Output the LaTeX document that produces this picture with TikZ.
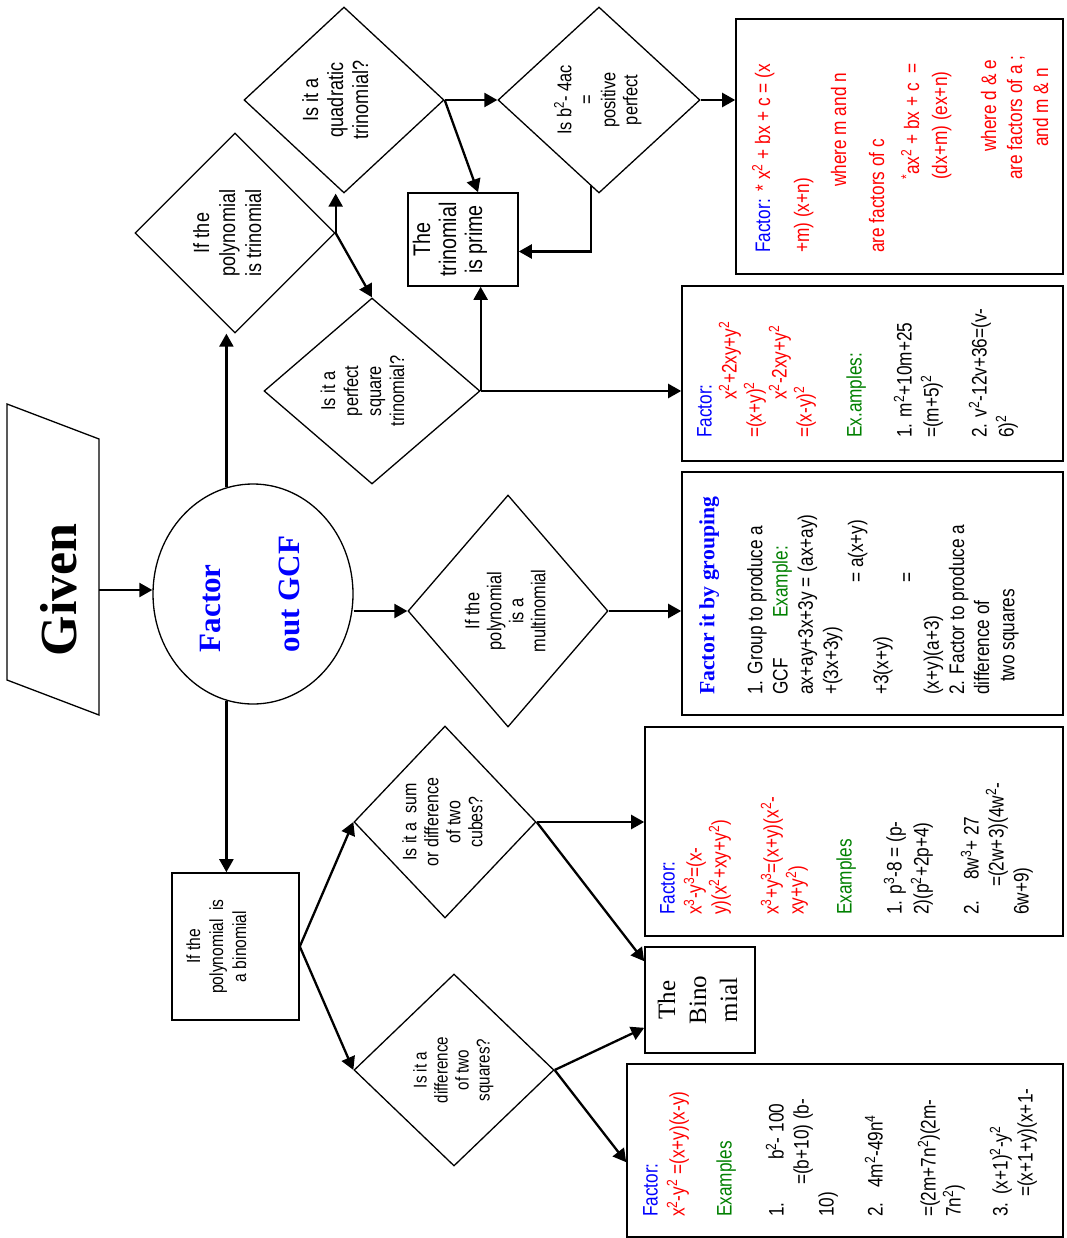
\documentclass[tikz,border=0pt]{standalone}
\usepackage{fontspec}
\usepackage{graphicx}
\setmainfont{Liberation Serif}
\newfontfamily\narrowsf[FakeStretch=0.82]{Liberation Sans}
\usetikzlibrary{arrows.meta}
\usetikzlibrary{shapes.geometric}
\definecolor{factorblue}{RGB}{0,0,255}
\definecolor{rulered}{RGB}{255,0,0}
\definecolor{examplegreen}{RGB}{0,128,0}
\newcommand{\setfs}[2]{\fontsize{#1pt}{#2pt}\selectfont}
\newcommand{\uptext}[2][0pt]{\rotatebox{90}{\raisebox{#1}[\height][\depth]{\begin{tabular}{@{}c@{}}#2\end{tabular}}}}
\newcommand{\powr}[1]{\textsuperscript{#1}}

\begin{document}
\begin{tikzpicture}[x=1pt, y=-1pt, decision/.style={diamond, draw, line width=1.3pt, inner sep=0pt}, stepbox/.style={rectangle, draw, line width=1.6pt, inner sep=0pt}, boxtext/.style={rotate=90, anchor=north west, inner sep=0pt, align=left}, arrow/.style={line width=2.3pt, ->, >={Triangle[length=13pt, width=14pt]}}]
\useasboundingbox (0,0) rectangle (1066,1238);
\draw [line width=1.3pt] (7,404) -- (99,439) -- (99,715) -- (7,680) -- cycle;
\node [minimum width=92pt, inner sep=0pt, font={\bfseries\setfs{52}{56}}] (given) at (53,590) {\uptext[-12pt]{Given}};
\node [ellipse, draw, line width=1.3pt, minimum width=200pt, minimum height=220pt, inner sep=0pt, text=factorblue, font={\bfseries\setfs{31}{33}}] (gcf) at (253,594) {\rotatebox{90}{\begin{tabular}{@{}l@{}}Factor\\[46pt]out GCF\end{tabular}}};

\node [decision, minimum width=200pt, minimum height=200pt, font={\narrowsf\setfs{22}{26}}] (trinom) at (235,233) {\uptext[5pt]{If the\\polynomial\\is trinomial}};
\node [decision, minimum width=200pt, minimum height=186pt, font={\narrowsf\setfs{22}{25}}] (quad) at (344,100) {\uptext[6pt]{Is it a\\quadratic\\trinomial?}};
\node [decision, minimum width=216pt, minimum height=186pt, font={\narrowsf\setfs{20}{23}}] (psq) at (372,391) {\uptext[7pt]{Is it a\\perfect\\square\\trinomial?}};
\node [decision, minimum width=202pt, minimum height=186pt, font={\narrowsf\setfs{20}{22}}] (b2) at (599,100) {\uptext{Is b\powr{2}- 4ac\\=\\positive\\perfect}};
\node [decision, minimum width=200pt, minimum height=232pt, font={\narrowsf\setfs{20}{22}}] (multi) at (508,611) {\uptext{If the\\polynomial\\is a\\multinomial}};
\node [decision, minimum width=182pt, minimum height=192pt, font={\narrowsf\setfs{19.5}{22}}] (cubes) at (445,822) {\uptext{Is it a\ \ sum\\or difference\\of two\\cubes?}};
\node [decision, minimum width=200pt, minimum height=192pt, font={\narrowsf\setfs{18.5}{21}}] (squares) at (454,1070) {\uptext{Is it a\\difference\\of two\\squares?}};

\node [stepbox, minimum width=110pt, minimum height=93pt, font={\narrowsf\setfs{24}{26}}] (prime) at (463,239.5) {\uptext[12pt]{The\\trinomial\\is prime}};
\node [stepbox, minimum width=127pt, minimum height=147pt, font={\narrowsf\setfs{19}{23}}] (binom) at (235.5,946.5) {\uptext[17pt]{If the\\polynomial\ \ is\\a binomial}};
\node [stepbox, minimum width=110pt, minimum height=106pt, font={\setfs{25}{31}}] (binres) at (700,1000) {\uptext{The\\Bino\\mial}};
\node [stepbox, minimum width=327pt, minimum height=255pt] (qbox) at (899.5,146.5) {};
\node [stepbox, minimum width=381pt, minimum height=175pt] (pbox) at (872.5,373.5) {};
\node [stepbox, minimum width=381pt, minimum height=243pt] (gbox) at (872.5,593.5) {};
\node [stepbox, minimum width=418pt, minimum height=209pt] (cbox) at (854,831.5) {};
\node [stepbox, minimum width=436pt, minimum height=173pt] (sbox) at (845,1150.5) {};

\node [boxtext, text=rulered, font={\narrowsf\setfs{21}{25}}] (qtext) at (752,253) {{\color{factorblue}Factor:}\hspace{8pt}* x\powr{2} + bx + c = (x\\[14pt]
+m) (x+n)\\[12pt]
\hspace*{66pt}where m and n\\[13pt]
are factors of c\\[10pt]
\hspace*{73pt}\powr{*}ax\powr{2} + bx + c \ =\\[3pt]
\hspace*{73pt}(dx+m) (ex+n)\\[24pt]
\hspace*{101pt}where d \& e\\[1pt]
\hspace*{73pt}are factors of a ;\\[1pt]
\hspace*{106pt}and m \& n};
\node [boxtext, font={\narrowsf\setfs{21}{25}}] (ptext) at (697,438) {{\color{factorblue}Factor:}\\
\hspace*{38pt}{\color{rulered}x\powr{2}+2xy+y\powr{2}}\\
{\color{rulered}=(x+y)\powr{2}}\\
\hspace*{38pt}{\color{rulered}x\powr{2}-2xy+y\powr{2}}\\
{\color{rulered}=(x-y)\powr{2}}\\[25pt]
{\color{examplegreen}Ex.amples:}\\[25pt]
1. m\powr{2}+10m+25\\[2pt]
=(m+5)\powr{2}\\[23pt]
2. v\powr{2}-12v+36=(v-\\[2pt]
6)\powr{2}};
\node [boxtext, text=factorblue, font={\bfseries\setfs{21.7}{24}}] (gtitle) at (699,695) {Factor it by grouping};
\node [boxtext, font={\narrowsf\setfs{21}{25.2}}] (gtext) at (747,695) {1. Group to produce a\\
\makebox[77pt][l]{GCF}{\color{examplegreen}Example:}\\
ax+ay+3x+3y = (ax+ay)\\
+(3x+3y)\\
\hspace*{112pt}= a(x+y)\\
+3(x+y)\\
\hspace*{112pt}=\\
(x+y)(a+3)\\
2. Factor to produce a\\
difference of\\
\hspace*{13pt}two squares};
\node [boxtext, font={\narrowsf\setfs{21}{25}}] (ctext) at (660,915) {{\color{factorblue}Factor:}\\[2pt]
{\color{rulered}x\powr{3}-y\powr{3}=(x-}\\
{\color{rulered}y)(x\powr{2}+xy+y\powr{2})}\\[27pt]
{\color{rulered}x\powr{3}+y\powr{3}=(x+y)(x\powr{2}-}\\
{\color{rulered}xy+y\powr{2})}\\[23pt]
{\color{examplegreen}Examples}\\[25pt]
1. p\powr{3}-8 = (p-\\[2pt]
2)(p\powr{2}+2p+4)\\[25pt]
\makebox[35pt][l]{2.}8w\powr{3}+ 27\\
\hspace*{28pt}=(2w+3)(4w\powr{2}-\\
6w+9)};
\node [boxtext, font={\narrowsf\setfs{21}{25}}] (stext) at (643,1217) {{\color{factorblue}Factor:}\\[2pt]
{\color{rulered}x\powr{2}-y\powr{2} =(x+y)(x-y)}\\[22pt]
{\color{examplegreen}Examples}\\[27pt]
\makebox[57pt][l]{1.}b\powr{2}- 100\\
\hspace*{32pt}=(b+10) (b-\\
10)\\[24pt]
\makebox[29pt][l]{2.}4m\powr{2}-49n\powr{4}\\[28pt]
=(2m+7n\powr{2})(2m-\\
7n\powr{2})\\[22pt]
\makebox[22pt][l]{3.}(x+1)\powr{2}-y\powr{2}\\
\hspace*{20pt}=(x+1+y)(x+1-};

\draw [arrow] (given.east) -- (given.east -| gcf.west);
\draw [arrow] (gcf.104) -- (gcf.104 |- trinom.south);
\draw [arrow] (gcf.256) -- (gcf.256 |- binom.north);
\draw [arrow] (gcf.east |- multi.west) -- (multi.west);
\draw [arrow] (multi.east) -- (multi.east -| gbox.west);
\draw [arrow] (trinom.east) -- (trinom.east |- quad.south);
\draw [arrow] (trinom.east) -- (psq.north);
\draw [arrow] (psq.east) -- (psq.east |- prime.south);
\draw [arrow] (psq.east) -- (psq.east -| pbox.west);
\draw [arrow] (quad.east) -- (b2.west);
\draw [arrow] (quad.east) -- ([xshift=15pt]prime.north);
\draw [arrow] ([xshift=-8pt,yshift=8pt]b2.south) |- ([yshift=-12pt]prime.east);
\draw [arrow] (b2.east) -- (b2.east -| qbox.west);
\draw [arrow] (binom.east) -- (cubes.west);
\draw [arrow] (binom.east) -- (squares.west);
\draw [arrow] (cubes.east) -- (cubes.east -| cbox.west);
\draw [arrow] (cubes.east) -- ([yshift=-15pt]binres.north west);
\draw [arrow] (squares.east) -- ([yshift=26pt]binres.south west);
\draw [arrow] (squares.east) -- ([yshift=-99pt]sbox.north west);
\end{tikzpicture}
\end{document}
